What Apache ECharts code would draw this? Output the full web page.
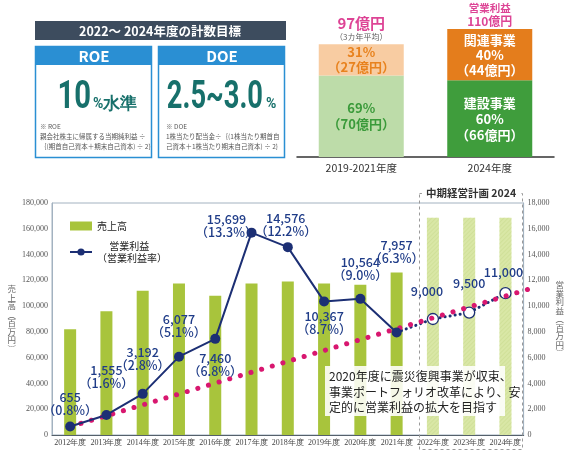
<!DOCTYPE html>
<html>
<head>
<meta charset="utf-8">
<title>計数目標と業績推移</title>
<script src="https://cdn.jsdelivr.net/npm/echarts@6/dist/echarts.min.js"></script>
<style>
  html, body { margin: 0; padding: 0; background: #fff; }
  #main { width: 567px; height: 451px; }
</style>
</head>
<body>
<div id="main"></div>
<script>
// ---- data ----
var years = ['2012年度', '2013年度', '2014年度', '2015年度', '2016年度', '2017年度', '2018年度',
             '2019年度', '2020年度', '2021年度', '2022年度', '2023年度', '2024年度'];
var sales = [82000, 96000, 112000, 117500, 108000, 117500, 119000, 117500, 116500, 126000, 168500, 168500, 168500];
var profit = [655, 1555, 3192, 6077, 7460, 15699, 14576, 10367, 10564, 7957];
var profitRate = ['0.8%', '1.6%', '2.8%', '5.1%', '6.8%', '13.3%', '12.2%', '8.7%', '9.0%', '6.3%'];
var profitPlan = [9000, 9500, 11000];
var trendStart = [0, 650];      // [year index, 営業利益]
var trendEnd = [12.7, 11400];

var splitYears = ['2019-2021年度', '2024年度'];
var construction = [70, 66];      // 億円
var related = [27, 44];
var constructionShare = [69, 60]; // %
var relatedShare = [31, 40];
var totalProfit = [97, 110];

var NAVY = '#1c2f74', PINK = '#d8176f', MAGENTA = '#d4157a', TEAL = '#17706b', BLUE = '#2a8fd3';
var JP = '"Noto Sans CJK JP", "Noto Sans", sans-serif';

var chart = echarts.init(document.getElementById('main'));

// label layout for the profit points (style only)
var profitLabelPos = [
  ['top', 0, 0], ['top', 0, -15], ['top', 0, -12], ['top', 0, -8], ['bottom', 0, 3],
  ['top', -25, 16], ['top', -2, 1], ['bottom', 0, -2], ['top', 0, -7], ['top', 0, -58]
];
var planLabelPos = [[-6, -10], [0, -12], [-2, -4]];

var salesData = sales.map(function (v, i) {
  if (i < 10) return v;
  return {
    value: v,
    itemStyle: {
      color: '#d9e7a6',
      decal: { symbol: 'rect', dashArrayX: [1, 0], dashArrayY: [1, 2], rotation: -Math.PI / 4, color: 'rgba(200,218,140,0.5)' }
    }
  };
});

var profitData = profit.map(function (v, i) {
  var p = profitLabelPos[i];
  return { value: v, label: { position: p[0], offset: [p[1], p[2]] } };
});

var planData = [];
for (var i = 0; i < 9; i++) planData.push(null);
planData.push({ value: profit[9], symbol: 'none', label: { show: false } });
profitPlan.forEach(function (v, i) {
  planData.push({ value: v, label: { show: true, offset: planLabelPos[i] } });
});

var labelRich = {
  v: { fontSize: 12.5, color: '#1f3c88', fontFamily: JP, lineHeight: 13, fontWeight: 500 },
  r: { fontSize: 12.5, color: '#1f3c88', fontFamily: JP, lineHeight: 13, fontWeight: 500 }
};

var option = {
  animation: false,
  textStyle: { fontFamily: JP },
  legend: {
    orient: 'vertical', left: 64, top: 215, itemWidth: 22, itemHeight: 9, itemGap: 8,
    data: [{ name: '売上高', icon: 'rect' }, { name: '営業利益' }],
    textStyle: { fontSize: 10, color: '#222', lineHeight: 12 },
    formatter: function (n) { return n === '営業利益' ? '　 営業利益\n（営業利益率）' : n; }
  },
  grid: [
    { left: 52, right: 42, top: 203, bottom: 16, show: true, borderColor: '#a3b2c0', borderWidth: 1 },
    { left: 52, right: 42 - 473 / 13, top: 203, bottom: 16 },
    { left: 297, right: 13, top: 29, bottom: 294 }
  ],
  xAxis: [
    {
      type: 'category', gridIndex: 0, data: years,
      axisLine: { lineStyle: { color: '#55606b', width: 1.2 } },
      axisTick: { show: false },
      axisLabel: { interval: 0, fontSize: 8, color: '#444', margin: 4, fontFamily: '"Liberation Serif", serif' }
    },
    { type: 'value', gridIndex: 1, min: -0.5, max: 13.5, show: false },
    {
      type: 'category', gridIndex: 2, data: splitYears,
      axisLine: { lineStyle: { color: '#333', width: 1.5 } },
      axisTick: { show: false },
      axisLabel: { fontSize: 10.5, color: '#333', margin: 6 }
    }
  ],
  yAxis: [
    {
      type: 'value', gridIndex: 0, min: 0, max: 180000, interval: 20000,
      name: '売\n上\n高\n︵\n百\n万\n円\n︶', nameLocation: 'middle', nameRotate: 0, nameGap: 30,
      nameTextStyle: { fontSize: 8.5, color: '#666', lineHeight: 8.5 },
      axisLine: { show: true, lineStyle: { color: '#a3b2c0' } },
      axisTick: { show: false }, splitLine: { show: false },
      axisLabel: { fontSize: 8, color: '#555', margin: 4, fontFamily: '"Liberation Serif", serif' }
    },
    {
      type: 'value', gridIndex: 0, min: 0, max: 18000, interval: 2000, position: 'right',
      name: '営\n業\n利\n益\n︵\n百\n万\n円\n︶', nameLocation: 'middle', nameRotate: 0, nameGap: 24,
      nameTextStyle: { fontSize: 8.5, color: '#666', lineHeight: 8.5 },
      axisLine: { show: true, lineStyle: { color: '#a3b2c0' } },
      axisTick: { show: false }, splitLine: { show: false },
      axisLabel: { fontSize: 8, color: '#555', margin: 4, fontFamily: '"Liberation Serif", serif' }
    },
    { type: 'value', gridIndex: 1, min: 0, max: 18000, show: false },
    { type: 'value', gridIndex: 2, min: 0, max: 110, show: false }
  ],
  series: [
    {
      name: '売上高', type: 'bar', xAxisIndex: 0, yAxisIndex: 0, barWidth: 12,
      itemStyle: { color: '#a8c43c' }, data: salesData, z: 2
    },
    {
      name: 'trend', type: 'line', xAxisIndex: 1, yAxisIndex: 2, data: [], z: 3,
      markLine: {
        silent: true, symbol: ['none', 'arrow'], symbolSize: [0, 18],
        label: { show: false },
        lineStyle: { color: PINK, width: 5, type: [0.1, 11], cap: 'round' },
        emphasis: { disabled: true },
        data: [[{ coord: trendStart }, { coord: trendEnd }]]
      }
    },
    {
      name: '計画', type: 'line', xAxisIndex: 0, yAxisIndex: 1, data: planData, z: 4,
      symbol: 'circle', symbolSize: 11, showAllSymbol: true,
      lineStyle: { color: NAVY, width: 3, type: [0.1, 5], cap: 'round' },
      itemStyle: { color: '#fff', borderColor: NAVY, borderWidth: 1.3 },
      label: {
        show: true, position: 'top', distance: 5,
        fontSize: 12.5, color: '#1f3c88', fontWeight: 500,
        formatter: function (p) { return echarts.format.addCommas(p.value); }
      }
    },
    {
      name: '営業利益', type: 'line', xAxisIndex: 0, yAxisIndex: 1, data: profitData, z: 5,
      symbol: 'circle', symbolSize: 10, showAllSymbol: true,
      lineStyle: { color: NAVY, width: 2 }, itemStyle: { color: NAVY },
      label: {
        show: true, position: 'top', distance: 5, rich: labelRich,
        formatter: function (p) {
          return '{v|' + echarts.format.addCommas(p.value) + '}\n{r|（' + profitRate[p.dataIndex] + '）}';
        }
      }
    },
    {
      name: '建設事業', type: 'bar', stack: 'split', xAxisIndex: 2, yAxisIndex: 3, barWidth: 85,
      data: construction.map(function (v, i) {
        return {
          value: v,
          itemStyle: { color: i === 0 ? '#bddca9' : '#3f9d3c' },
          label: { color: i === 0 ? '#3a9a3a' : '#fff' }
        };
      }),
      label: {
        show: true, position: 'inside', fontSize: 13, fontWeight: 'bold', lineHeight: 16,
        formatter: function (p) {
          return (p.dataIndex === 1 ? '建設事業\n' : '') + constructionShare[p.dataIndex] + '%\n（' + p.value + '億円）';
        }
      }
    },
    {
      name: '関連事業', type: 'bar', stack: 'split', xAxisIndex: 2, yAxisIndex: 3, barWidth: 85,
      data: related.map(function (v, i) {
        return {
          value: v,
          itemStyle: { color: i === 0 ? '#f8cca2' : '#e47d1c' },
          label: { color: i === 0 ? '#e8821e' : '#fff' }
        };
      }),
      label: {
        show: true, position: 'inside', fontSize: 13, fontWeight: 'bold', lineHeight: 15,
        formatter: function (p) {
          return (p.dataIndex === 1 ? '関連事業\n' : '') + relatedShare[p.dataIndex] + '%\n（' + p.value + '億円）';
        }
      }
    },
    {
      name: '合計', type: 'scatter', xAxisIndex: 2, yAxisIndex: 3, symbolSize: 0, data: totalProfit,
      label: {
        show: true, position: 'top', distance: 1,
        formatter: function (p) {
          return p.dataIndex === 0
            ? '{m|' + p.value + '億円}\n{s|（3カ年平均）}'
            : '{h|営業利益}\n{n|' + p.value + '億円}';
        },
        rich: {
          m: { fontSize: 15, fontWeight: 'bold', color: MAGENTA, lineHeight: 16 },
          s: { fontSize: 8, color: '#333', lineHeight: 12 },
          h: { fontSize: 10.5, fontWeight: 'bold', color: MAGENTA, lineHeight: 12 },
          n: { fontSize: 12, fontWeight: 'bold', color: MAGENTA, lineHeight: 14 }
        }
      }
    }
  ],
  graphic: [
    // 計数目標 panel
    { type: 'rect', shape: { x: 35, y: 21, width: 251, height: 19 }, style: { fill: '#3d4c5e' } },
    { type: 'text', x: 160, y: 31, style: { text: '2022～ 2024年度の計数目標', fill: '#fff', fontSize: 12.5, fontWeight: 'bold', fontFamily: JP, align: 'center', verticalAlign: 'middle' } },

    { type: 'rect', shape: { x: 35.5, y: 46.5, width: 116, height: 111 }, style: { fill: '#fff', stroke: BLUE, lineWidth: 1.5 } },
    { type: 'rect', shape: { x: 35, y: 46, width: 117, height: 19 }, style: { fill: BLUE } },
    { type: 'text', x: 94, y: 56, style: { text: 'ROE', fill: '#fff', fontSize: 15, fontWeight: 'bold', fontFamily: JP, align: 'center', verticalAlign: 'middle' } },
    { type: 'text', x: 91, y: 98, scaleX: 0.75, style: { text: '10', fill: TEAL, fontSize: 39, fontWeight: 'bold', fontFamily: 'Roboto, sans-serif', align: 'right', verticalAlign: 'middle' } },
    { type: 'text', x: 93, y: 104, style: { text: '{p|%}{k|水準}', fill: TEAL, fontFamily: JP, align: 'left', verticalAlign: 'middle',
        rich: { p: { fontSize: 14, fontWeight: 'bold', fill: TEAL, fontFamily: 'Roboto, sans-serif' }, k: { fontSize: 17, fontWeight: 'bold', fill: TEAL } } } },
    { type: 'text', x: 40, y: 122, style: { text: '※ ROE\n親会社株主に帰属する当期純利益 ÷\n｛(期首自己資本＋期末自己資本) ÷ 2｝', fill: '#555', fontSize: 6.5, lineHeight: 10, fontFamily: JP } },

    { type: 'rect', shape: { x: 158.5, y: 46.5, width: 126, height: 111 }, style: { fill: '#fff', stroke: BLUE, lineWidth: 1.5 } },
    { type: 'rect', shape: { x: 158, y: 46, width: 127, height: 19 }, style: { fill: BLUE } },
    { type: 'text', x: 222, y: 56, style: { text: 'DOE', fill: '#fff', fontSize: 15, fontWeight: 'bold', fontFamily: JP, align: 'center', verticalAlign: 'middle' } },
    { type: 'text', x: 263, y: 98, scaleX: 0.7, style: { text: '2.5~3.0', fill: TEAL, fontSize: 39, fontWeight: 'bold', fontFamily: 'Roboto, sans-serif', align: 'right', verticalAlign: 'middle' } },
    { type: 'text', x: 266, y: 104, style: { text: '%', fill: TEAL, fontSize: 14, fontWeight: 'bold', fontFamily: 'Roboto, sans-serif', align: 'left', verticalAlign: 'middle' } },
    { type: 'text', x: 166, y: 122, style: { text: '※ DOE\n1株当たり配当金÷｛(1株当たり期首自\n己資本＋1株当たり期末自己資本) ÷ 2｝', fill: '#555', fontSize: 6.5, lineHeight: 10, fontFamily: JP } },

    // 中期経営計画 frame
    { type: 'rect', z: 1, shape: { x: 419.5, y: 193.5, width: 103, height: 256 }, style: { fill: 'none', stroke: '#9a9a9a', lineWidth: 1, lineDash: [3, 3] } },
    { type: 'text', z: 10, x: 471, y: 193, style: { text: '中期経営計画 2024', fill: '#333', fontSize: 10.5, fontWeight: 'bold', fontFamily: JP, align: 'center', verticalAlign: 'middle', backgroundColor: '#fff', padding: [1, 4] } },

    // note box
    { type: 'rect', z: 10, shape: { x: 325, y: 366, width: 180, height: 50 }, style: { fill: 'rgba(255,255,255,0.88)' } },
    { type: 'text', z: 11, x: 329, y: 369, style: { text: '2020年度に震災復興事業が収束、\n事業ポートフォリオ改革により、安\n定的に営業利益の拡大を目指す', fill: '#222', fontSize: 12, lineHeight: 15.5, fontFamily: JP } }
  ]
};

chart.setOption(option);
</script>
</body>
</html>
